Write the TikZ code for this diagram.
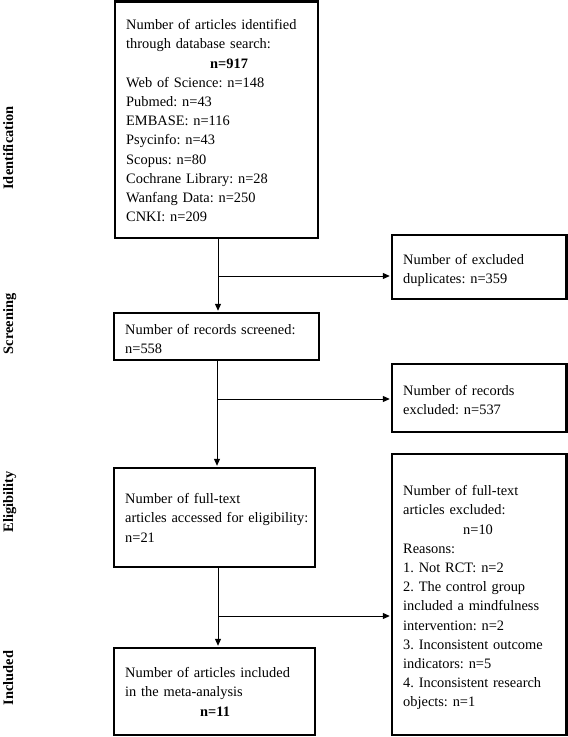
\documentclass[tikz,border=0pt]{standalone}
\usepackage{fontspec}
\setmainfont{Liberation Serif}
\usetikzlibrary{arrows.meta}
\frenchspacing
\tikzset{
  box/.style={draw, line width=2.4pt, inner sep=0pt, rectangle},
  txt/.style={inner sep=0pt, anchor=north west, align=left,
              font=\fontsize{14.4pt}{19.2pt}\selectfont\frenchspacing},
  lab/.style={inner sep=0pt, rotate=90, anchor=base,
              font=\fontsize{14.4pt}{19.2pt}\selectfont\bfseries},
  arr/.style={draw, line width=1pt, shorten >=1pt,
              -{Triangle[length=7pt,width=6pt]}}
}
\newcommand{\firstline}{\rule{0pt}{11pt}}
\begin{document}
\begin{tikzpicture}[x=1pt,y=-1pt]
\useasboundingbox (0,0) rectangle (568,737);
% boxes
\node[box, minimum width=203pt, minimum height=236.5pt] (b1) at (216.5,119.75) {};
\node[box, minimum width=174.5pt, minimum height=64pt] (dup) at (479.25,267) {};
\node[box, minimum width=205pt, minimum height=47pt] (scr) at (216.5,336.5) {};
\node[box, minimum width=174.5pt, minimum height=68pt] (recex) at (479.25,398) {};
\node[box, minimum width=201pt, minimum height=99pt] (full) at (214.5,517.5) {};
\node[box, minimum width=174.5pt, minimum height=281pt] (fullex) at (479.25,594.5) {};
\node[box, minimum width=201pt, minimum height=87pt] (incl) at (214.5,691.5) {};
% texts
\node[txt, text width=186pt] (b1t) at (126,18.5) {\firstline\makebox[181pt][s]{Number of articles identified}\\
through database search:\\
\hspace*{84pt}\textbf{n=917}\\
Web of Science: n=148\\
Pubmed: n=43\\
EMBASE: n=116\\
Psycinfo: n=43\\
Scopus: n=80\\
Cochrane Library: n=28\\
Wanfang Data: n=250\\
CNKI: n=209};
\node[txt, text width=160pt] (dupt) at (403,253) {\firstline Number of excluded\\duplicates: n=359};
\node[txt, text width=190pt] (scrt) at (125,323.5) {\firstline Number of records screened:\\n=558};
\node[txt, text width=160pt] (recext) at (403,384) {\firstline Number of records\\excluded: n=537};
\node[txt, text width=188pt] (fullt) at (125,492.5) {\firstline Number of full-text\\articles accessed for eligibility:\\n=21};
\node[txt, text width=160pt] (fullext) at (403,484.5) {\firstline Number of full-text\\
articles excluded:\\
\hspace*{60pt}n=10\\
Reasons:\\
1. Not RCT: n=2\\
2. The control group\\
included a mindfulness\\
intervention: n=2\\
3. Inconsistent outcome\\
indicators: n=5\\
4. Inconsistent research\\
objects: n=1};
\node[txt, text width=188pt] (inclt) at (125,666.5) {\firstline Number of articles included\\in the meta-analysis\\\hspace*{75pt}\textbf{n=11}};
% stage labels
\node[lab] (l1) at (13,148) {Identification};
\node[lab] (l2) at (13,324) {Screening};
\node[lab] (l3) at (13,502) {Eligibility};
\node[lab] (l4) at (13,678) {Included};
% connectors
\coordinate (j1) at (218,276);
\coordinate (j2) at (217,399);
\coordinate (j3) at (218,616);
\draw[arr] (b1.south -| j1) -- (scr.north -| j1);
\draw[arr] (j1) -- (dup.west |- j1);
\draw[arr] (scr.south -| j2) -- (full.north -| j2);
\draw[arr] (j2) -- (recex.west |- j2);
\draw[arr] (full.south -| j3) -- (incl.north -| j3);
\draw[arr] (j3) -- (fullex.west |- j3);
\end{tikzpicture}
\end{document}
